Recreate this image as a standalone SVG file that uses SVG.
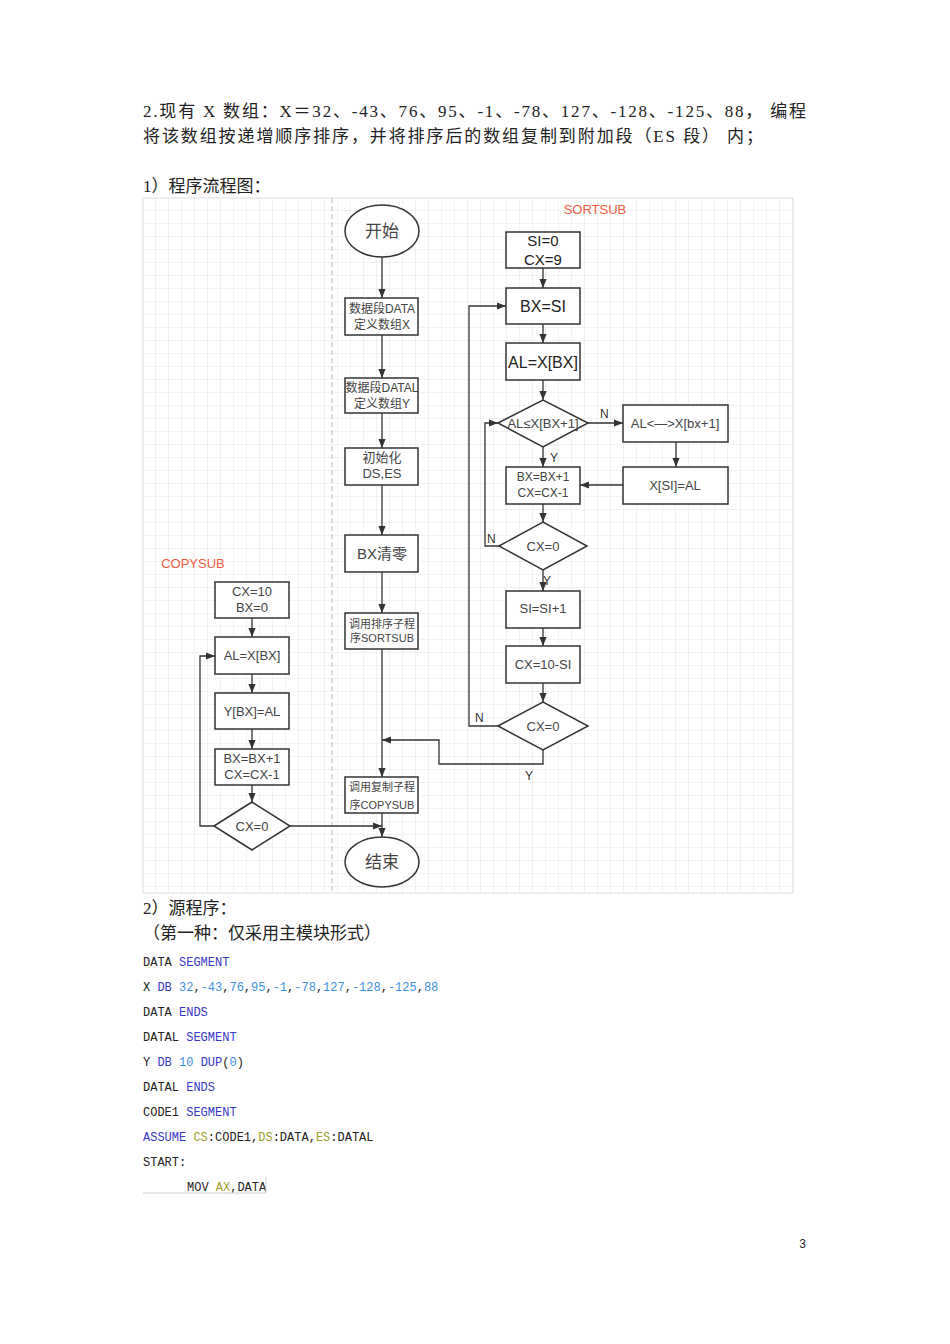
<svg xmlns="http://www.w3.org/2000/svg" width="950" height="1344" viewBox="0 0 950 1344">
<defs>
<pattern id="g" width="13" height="13" patternUnits="userSpaceOnUse" x="143" y="198"><path d="M13 0V13H0" fill="none" stroke="#e4e4e4" stroke-width="1"/></pattern>
<marker id="a" viewBox="0 0 10 10" refX="10" refY="5" markerWidth="7" markerHeight="7" orient="auto"><path d="M0 1L10 5L0 9z" fill="#333"/></marker>
</defs>
<style>
.t{font-family:"Liberation Serif","Noto Sans CJK SC",serif;font-size:17px;fill:#222}
.b{fill:#fff;stroke:#333;stroke-width:1.5}
.n{font-family:"Liberation Sans","Noto Sans CJK SC",sans-serif;font-size:13px;fill:#444;text-anchor:middle}
.l{font-family:"Liberation Sans",sans-serif;font-size:12px;fill:#333}
.r{font-family:"Liberation Sans",sans-serif;font-size:13px;fill:#f05a40}
.c{fill:none;stroke:#333;stroke-width:1.3}
.m{font-family:"Liberation Mono","Noto Sans CJK SC",monospace;font-size:12px;fill:#222}
.k{fill:#3838c8}.u{fill:#3c90e0}.o{fill:#a0a030}
</style>
<rect width="950" height="1344" fill="#fff"/>
<text class="t" x="143" y="117" textLength="663">2.现有 X 数组：X＝32、-43、76、95、-1、-78、127、-128、-125、88， 编程</text>
<text class="t" x="143" y="142" textLength="620">将该数组按递增顺序排序，并将排序后的数组复制到附加段（ES 段） 内；</text>
<text class="t" x="143" y="192">1）程序流程图：</text>
<rect x="143" y="198" width="650" height="695" fill="url(#g)" stroke="#ddd"/>
<line x1="332" y1="198" x2="332" y2="893" stroke="#bbb" stroke-dasharray="5,3"/>
<text class="r" x="595" y="214" text-anchor="middle">SORTSUB</text>
<text class="r" x="193" y="568" text-anchor="middle">COPYSUB</text>
<g id="connectors">
<path class="c" d="M382 257V298" marker-end="url(#a)"/>
<path class="c" d="M382 335V378" marker-end="url(#a)"/>
<path class="c" d="M382 413V448" marker-end="url(#a)"/>
<path class="c" d="M382 485V535" marker-end="url(#a)"/>
<path class="c" d="M382 572V613" marker-end="url(#a)"/>
<path class="c" d="M382 649V777" marker-end="url(#a)"/>
<path class="c" d="M382 813V837" marker-end="url(#a)"/>
<path class="c" d="M543 268V288" marker-end="url(#a)"/>
<path class="c" d="M543 324V343" marker-end="url(#a)"/>
<path class="c" d="M543 380V400" marker-end="url(#a)"/>
<path class="c" d="M588 423H623" marker-end="url(#a)"/>
<path class="c" d="M543 447V467" marker-end="url(#a)"/>
<path class="c" d="M676 442V467" marker-end="url(#a)"/>
<path class="c" d="M623 485H580" marker-end="url(#a)"/>
<path class="c" d="M543 504V522" marker-end="url(#a)"/>
<path class="c" d="M499 546H485V423H498" marker-end="url(#a)"/>
<path class="c" d="M543 570V591" marker-end="url(#a)"/>
<path class="c" d="M543 628V646" marker-end="url(#a)"/>
<path class="c" d="M543 683V702" marker-end="url(#a)"/>
<path class="c" d="M498 726H469V306H506" marker-end="url(#a)"/>
<path class="c" d="M543 750V764H439V740H382" marker-end="url(#a)"/>
<path class="c" d="M252 618V637" marker-end="url(#a)"/>
<path class="c" d="M252 674V693" marker-end="url(#a)"/>
<path class="c" d="M252 729V749" marker-end="url(#a)"/>
<path class="c" d="M252 785V802" marker-end="url(#a)"/>
<path class="c" d="M214 826H200V656H215" marker-end="url(#a)"/>
<path class="c" d="M290 826H382" marker-end="url(#a)"/>
<text class="l" x="600" y="418">N</text>
<text class="l" x="550" y="462">Y</text>
<text class="l" x="487" y="543">N</text>
<text class="l" x="543" y="585">Y</text>
<text class="l" x="475" y="722">N</text>
<text class="l" x="525" y="780">Y</text>
</g>
<g id="start"><ellipse class="b" cx="382" cy="231" rx="37" ry="26"/><text class="n" x="382" y="237" style="font-size:17px;font-family:'Noto Sans CJK SC',serif">开始</text></g>
<g id="n1"><rect class="b" x="345" y="298" width="73" height="37"/><text class="n" x="382" y="313" style="font-size:12px">数据段DATA</text><text class="n" x="382" y="329" style="font-size:12px">定义数组X</text></g>
<g id="n2"><rect class="b" x="345" y="378" width="73" height="35"/><text class="n" x="382" y="392" style="font-size:12px">数据段DATAL</text><text class="n" x="382" y="408" style="font-size:12px">定义数组Y</text></g>
<g id="n3"><rect class="b" x="345" y="448" width="73" height="37"/><text class="n" x="382" y="462">初始化</text><text class="n" x="382" y="478">DS,ES</text></g>
<g id="n4"><rect class="b" x="345" y="535" width="73" height="37"/><text class="n" x="382" y="559" style="font-size:15px">BX清零</text></g>
<g id="n5"><rect class="b" x="345" y="613" width="73" height="36"/><text class="n" x="382" y="628" style="font-size:11px">调用排序子程</text><text class="n" x="382" y="642" style="font-size:11px">序SORTSUB</text></g>
<g id="n6"><rect class="b" x="345" y="777" width="73" height="36"/><text class="n" x="382" y="791" style="font-size:11px">调用复制子程</text><text class="n" x="382" y="809" style="font-size:11px">序COPYSUB</text></g>
<g id="end"><ellipse class="b" cx="382" cy="862" rx="37" ry="25"/><text class="n" x="382" y="868" style="font-size:17px;font-family:'Noto Sans CJK SC',serif">结束</text></g>
<g id="s1"><rect class="b" x="506" y="232" width="74" height="36"/><text class="n" x="543" y="246" style="font-size:15px;fill:#222">SI=0</text><text class="n" x="543" y="265" style="font-size:15px;fill:#222">CX=9</text></g>
<g id="s2"><rect class="b" x="506" y="288" width="74" height="36"/><text class="n" x="543" y="312" style="font-size:16px;fill:#222">BX=SI</text></g>
<g id="s3"><rect class="b" x="506" y="343" width="74" height="37"/><text class="n" x="543" y="368" style="font-size:16px;fill:#222">AL=X[BX]</text></g>
<g id="s4"><path class="b" d="M498 423L543 400L588 423L543 447Z"/><text class="n" x="543" y="428">AL≤X[BX+1]</text></g>
<g id="s5"><rect class="b" x="623" y="405" width="105" height="37"/><text class="n" x="675" y="428">AL&lt;—&gt;X[bx+1]</text></g>
<g id="s6"><rect class="b" x="506" y="467" width="74" height="37"/><text class="n" x="543" y="481" style="font-size:12px">BX=BX+1</text><text class="n" x="543" y="497" style="font-size:12px">CX=CX-1</text></g>
<g id="s7"><rect class="b" x="623" y="467" width="105" height="37"/><text class="n" x="675" y="490">X[SI]=AL</text></g>
<g id="s8"><path class="b" d="M499 546L543 522L587 546L543 570Z"/><text class="n" x="543" y="551">CX=0</text></g>
<g id="s9"><rect class="b" x="506" y="591" width="74" height="37"/><text class="n" x="543" y="613">SI=SI+1</text></g>
<g id="s10"><rect class="b" x="506" y="646" width="74" height="37"/><text class="n" x="543" y="669">CX=10-SI</text></g>
<g id="s11"><path class="b" d="M498 726L543 702L588 726L543 750Z"/><text class="n" x="543" y="731">CX=0</text></g>
<g id="c1"><rect class="b" x="215" y="582" width="74" height="36"/><text class="n" x="252" y="596">CX=10</text><text class="n" x="252" y="612">BX=0</text></g>
<g id="c2"><rect class="b" x="215" y="637" width="74" height="37"/><text class="n" x="252" y="660">AL=X[BX]</text></g>
<g id="c3"><rect class="b" x="215" y="693" width="74" height="36"/><text class="n" x="252" y="716">Y[BX]=AL</text></g>
<g id="c4"><rect class="b" x="215" y="749" width="74" height="36"/><text class="n" x="252" y="763">BX=BX+1</text><text class="n" x="252" y="779">CX=CX-1</text></g>
<g id="c5"><path class="b" d="M214 826L252 802L290 826L252 850Z"/><text class="n" x="252" y="831">CX=0</text></g>
<text class="t" x="143" y="914">2）源程序：</text>
<text class="t" x="143" y="939">（第一种：仅采用主模块形式）</text>
<text class="m" x="143" y="966">DATA <tspan class="k">SEGMENT</tspan></text>
<text class="m" x="143" y="991">X <tspan class="k">DB</tspan> <tspan class="u">32</tspan>,<tspan class="u">-43</tspan>,<tspan class="u">76</tspan>,<tspan class="u">95</tspan>,<tspan class="u">-1</tspan>,<tspan class="u">-78</tspan>,<tspan class="u">127</tspan>,<tspan class="u">-128</tspan>,<tspan class="u">-125</tspan>,<tspan class="u">88</tspan></text>
<text class="m" x="143" y="1016">DATA <tspan class="k">ENDS</tspan></text>
<text class="m" x="143" y="1041">DATAL <tspan class="k">SEGMENT</tspan></text>
<text class="m" x="143" y="1066">Y <tspan class="k">DB</tspan> <tspan class="u">10</tspan> <tspan class="k">DUP</tspan>(<tspan class="u">0</tspan>)</text>
<text class="m" x="143" y="1091">DATAL <tspan class="k">ENDS</tspan></text>
<text class="m" x="143" y="1116">CODE1 <tspan class="k">SEGMENT</tspan></text>
<text class="m" x="143" y="1141"><tspan class="k">ASSUME</tspan> <tspan class="o">CS</tspan>:CODE1,<tspan class="o">DS</tspan>:DATA,<tspan class="o">ES</tspan>:DATAL</text>
<text class="m" x="143" y="1166">START:</text>
<text class="m" x="187" y="1191">MOV <tspan class="o">AX</tspan>,DATA</text>
<path d="M143 1193H266V1177" fill="none" stroke="#ccc"/>
<text class="m" x="799" y="1248">3</text>
</svg>
